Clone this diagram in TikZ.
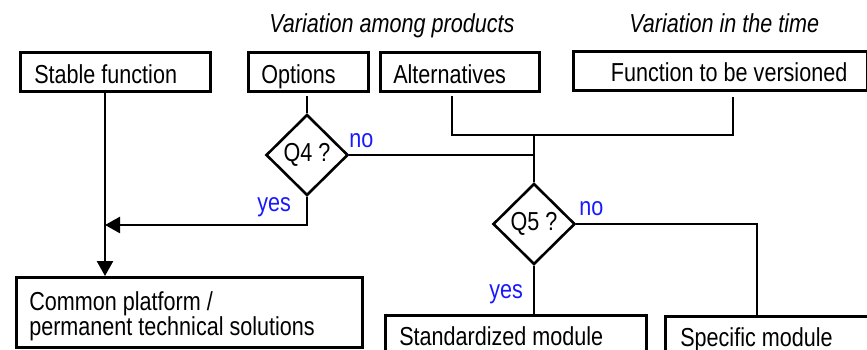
\documentclass[tikz,border=0pt]{standalone}
\usepackage{fontspec}
\setmainfont{Liberation Sans}[FakeStretch=0.83]
\usetikzlibrary{shapes.geometric,arrows.meta}
\definecolor{lblblue}{RGB}{25,25,255}
\begin{document}
\begin{tikzpicture}[x=1pt,y=-1pt,
  font=\fontsize{26}{25}\selectfont,
  line width=2.6pt,
  box/.style={draw, rectangle, anchor=north west, inner xsep=0pt, inner ysep=0pt},
  toprow/.style={box, minimum height=39pt, text height=23pt, text depth=0pt},
  botrow/.style={box, minimum height=45pt, text height=15pt, text depth=0pt},
  question/.style={draw, diamond, inner sep=0pt, minimum width=82pt, minimum height=81pt},
  answer/.style={text=lblblue, inner sep=0pt, anchor=base west},
  heading/.style={inner sep=0pt, anchor=base west, font=\fontsize{26}{25}\selectfont\itshape},
  arr/.style={-{Triangle[length=15pt,width=16pt]}}
]
\useasboundingbox (0,0) rectangle (867,349);
\clip (0,0) rectangle (867,349);

% column headings
\node[heading] (hdrprod) at (268,32) {Variation among products};
\node[heading] (hdrtime) at (628,32) {Variation in the time};

% input boxes
\node[toprow, minimum width=190pt, text width=162pt, align=flush left] (stable) at (19,51) {Stable function};
\node[toprow, minimum width=120pt, text width=94pt, align=flush left] (options) at (247,51) {Options};
\node[toprow, minimum width=159pt, text width=133pt, align=flush left] (alts) at (379,51) {Alternatives};
\node[box, minimum width=294pt, minimum height=39pt, text height=21pt, text depth=0pt,
      text width=254pt, align=flush right] (func) at (572,50) {Function to be versioned};

% decisions
\node[question] (q4) at (307,155) {Q4 ?};
\node[question] (q5) at (534,224) {Q5 ?};

% result boxes
\node[box, minimum width=346pt, minimum height=70pt, text width=320pt, align=flush left] (common) at (15,276)
  {\rule{0pt}{27pt}Common platform /\\permanent technical solutions};
\node[botrow, minimum width=261pt, text width=233pt, align=flush left] (std) at (384,314) {Standardized module};
\node[botrow, minimum width=240pt, text width=210pt, align=flush left] (spec) at (664,315) {Specific module};

% routing points
\coordinate (sp) at (105,0);
\coordinate (op) at (307,96);
\coordinate (ja) at (452,135);
\coordinate (jm) at (534,135);
\coordinate (jf) at (733,135);
\coordinate (ka) at (452,96);
\coordinate (kf) at (733,97);
\coordinate (kq4) at (307,225);
\coordinate (ks) at (757,224);

% connectors
\draw[arr] (stable.south -| sp) -- (common.north -| sp);
\draw (op) -- (q4.north);
\draw[arr] (q4.south) -- (kq4) -- (kq4 -| sp);
\draw (ka) -- (ja) -- (jf) -- (kf);
\draw (q4.east) -- (q4.east -| jm);
\draw (jm) -- (q5.north);
\draw (q5.south) -- (q5.south |- std.north);
\draw (q5.east) -- (ks) -- (spec.north -| ks);

% answers
\node[answer] (q4no) at (348,147) {no};
\node[answer] (q4yes) at (256,211) {yes};
\node[answer] (q5no) at (578,215) {no};
\node[answer] (q5yes) at (488,298) {yes};
\end{tikzpicture}
\end{document}
